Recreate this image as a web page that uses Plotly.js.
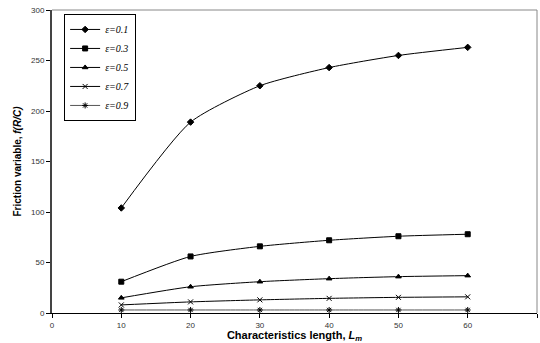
<!DOCTYPE html>
<html><head><meta charset="utf-8">
<script src="https://cdn.plot.ly/plotly-3.0.1.min.js"></script>
<style>body{margin:0;background:#fff}#c{width:540px;height:343px}</style>
</head><body><div id="c"></div>
<script>
const lengths = [10, 20, 30, 40, 50, 60];
const seriesNames = ['ε=0.1', 'ε=0.3', 'ε=0.5', 'ε=0.7', 'ε=0.9'];
const eps01 = [104, 189, 225, 243, 255, 263];
const eps03 = [31, 56, 66, 72, 76, 78];
const eps05 = [15, 26, 31, 34, 36, 37];
const eps07 = [8, 11, 13, 14.5, 15.5, 16];
const eps09 = [3, 3, 3, 3, 3, 3];
const xTicks = [0, 10, 20, 30, 40, 50, 60, 70];
const yTicks = [0, 50, 100, 150, 200, 250, 300];

const allY = [eps01, eps03, eps05, eps07, eps09];
const symbols = ['diamond', 'square', 'triangle-up', 'x-thin-open', 'asterisk-open'];
const sizes = [5, 5, 5, 5, 5];
const lineColors = ['#000', '#000', '#000', '#000', '#555'];
const traces = allY.map((y, i) => ({
  x: lengths, y: y, name: seriesNames[i], type: 'scatter', mode: 'lines+markers',
  line: {color: lineColors[i], width: 1, shape: 'spline', smoothing: 0.6},
  marker: {symbol: symbols[i], size: sizes[i], color: '#000', line: {color: '#000', width: 1}}
}));

const layout = {
  width: 540, height: 343,
  margin: {l: 52, r: 3, t: 10, b: 30},
  paper_bgcolor: '#fff', plot_bgcolor: '#fff',
  showlegend: true,
  legend: {x: 0.025, y: 0.987, xanchor: 'left', yanchor: 'top',
    bgcolor: '#fff', bordercolor: '#000', borderwidth: 1,
    font: {family: 'Liberation Serif', size: 10, color: '#000', style: 'italic'},
    tracegroupgap: 0, itemwidth: 30, entrywidth: 50},
  xaxis: {range: [0, 70], tickvals: xTicks, ticks: 'outside', ticklen: 4, tickcolor: '#000',
    showgrid: false, zeroline: false, showline: true, linecolor: '#000', linewidth: 1, mirror: false,
    tickfont: {family: 'Liberation Sans', size: 8, color: '#333'},
    title: {text: '<b>Characteristics length, <i>L</i><sub><i>m</i></sub></b>', standoff: 2,
      font: {family: 'Liberation Sans', size: 11, color: '#000'}}},
  yaxis: {range: [0, 300], tickvals: yTicks, ticks: 'outside', ticklen: 4, tickcolor: '#000',
    showgrid: false, zeroline: false, showline: true, linecolor: '#444', linewidth: 2,
    tickfont: {family: 'Liberation Sans', size: 8, color: '#333'},
    title: {text: '<b>Friction variable, <i>f(R/C)</i></b>', standoff: 8,
      font: {family: 'Liberation Sans', size: 10, color: '#000'}}},
  shapes: [
    {type: 'line', xref: 'paper', yref: 'paper', x0: 0, x1: 1, y0: 1, y1: 1, line: {color: '#888', width: 1}},
    {type: 'line', xref: 'paper', yref: 'paper', x0: 1, x1: 1, y0: 0, y1: 1, line: {color: '#888', width: 1}}
  ]
};
Plotly.newPlot('c', traces, layout, {displayModeBar: false, staticPlot: true});
</script></body></html>
